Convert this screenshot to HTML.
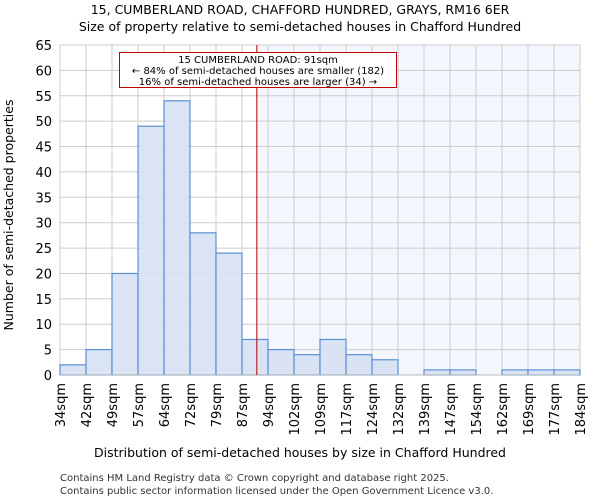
<!DOCTYPE html>
<html><head><meta charset="utf-8"><style>
body{margin:0;background:#fff;}
svg{font-family:"DejaVu Sans","Liberation Sans",sans-serif;display:block}
</style></head><body>
<svg id="c" width="600" height="500" viewBox="0 0 600 500">
<text x="300" y="14" text-anchor="middle" font-size="12.5">15, CUMBERLAND ROAD, CHAFFORD HUNDRED, GRAYS, RM16 6ER</text>
<text x="300" y="31" text-anchor="middle" font-size="12.5">Size of property relative to semi-detached houses in Chafford Hundred</text>
<g id="plot"></g>
<text x="300" y="457" text-anchor="middle" font-size="12.5">Distribution of semi-detached houses by size in Chafford Hundred</text>
<text transform="translate(13,215) rotate(-90)" text-anchor="middle" font-size="12.5">Number of semi-detached properties</text>
<text x="60" y="481" font-size="10" fill="#333">Contains HM Land Registry data © Crown copyright and database right 2025.</text>
<text x="60" y="494" font-size="10" fill="#333">Contains public sector information licensed under the Open Government Licence v3.0.</text>
</svg>
<script>
const categories=["34sqm","42sqm","49sqm","57sqm","64sqm","72sqm","79sqm","87sqm","94sqm","102sqm","109sqm","117sqm","124sqm","132sqm","139sqm","147sqm","154sqm","162sqm","169sqm","177sqm","184sqm"];
const counts=[2,5,20,49,54,28,24,7,5,4,7,4,3,0,1,1,0,1,1,1];
const yTicks=[0,5,10,15,20,25,30,35,40,45,50,55,60,65];
const markerPosition=7.57;
const NS="http://www.w3.org/2000/svg";
const X0=60,X1=580,Y0=375,Y1=45,YMAX=65;
const bw=(X1-X0)/counts.length;
const xs=i=>X0+i*bw;
const ys=v=>Y0-(v/YMAX)*(Y0-Y1);
const g=document.getElementById('plot');
function mk(t,a){const e=document.createElementNS(NS,t);for(const k in a)e.setAttribute(k,a[k]);g.appendChild(e);return e;}
const mx=xs(markerPosition);
let e=mk('rect',{x:mx,y:Y1,width:X1-mx,height:Y0-Y1,fill:'#f3f6fd'});


yTicks.forEach(t=>{
 let l=mk('line',{x1:X0,x2:X1,y1:ys(t),y2:ys(t),stroke:'#cccccc'});
 
 
 let tx=mk('text',{x:X0-8,y:ys(t)+5,'text-anchor':'end','font-size':'13'});
 tx.textContent=t;
 
 
});
categories.forEach((c,i)=>{
 let l=mk('line',{x1:xs(i),x2:xs(i),y1:Y1,y2:Y0,stroke:'#cccccc'});
 
 
 let tx=mk('text',{transform:`translate(${xs(i)+5},${Y0+8}) rotate(-90)`,'text-anchor':'end','font-size':'13'});
 tx.textContent=c;
 
 
});
counts.forEach((v,i)=>{
 if(v<=0)return;
 let r=mk('rect',{x:xs(i),y:ys(v),width:bw,height:Y0-ys(v),fill:'#d6e1f3','fill-opacity':0.9,stroke:'#5a8fd6','stroke-width':1.2});
 
 
});
e=mk('line',{x1:X0,x2:X1,y1:Y0,y2:Y0,stroke:'#bbbbbb'});


e=mk('line',{x1:mx,x2:mx,y1:Y1,y2:Y0,stroke:'#b00000','stroke-width':1});


e=mk('rect',{x:119.5,y:52.5,width:277,height:35,fill:'#fff',stroke:'#c00000'});


["15 CUMBERLAND ROAD: 91sqm","← 84% of semi-detached houses are smaller (182)","16% of semi-detached houses are larger (34) →"].forEach((s,k)=>{
 let tx=mk('text',{x:258,y:63+k*11,'text-anchor':'middle','font-size':'10'});
 tx.textContent=s;
 
 
});
</script>
</body></html>
